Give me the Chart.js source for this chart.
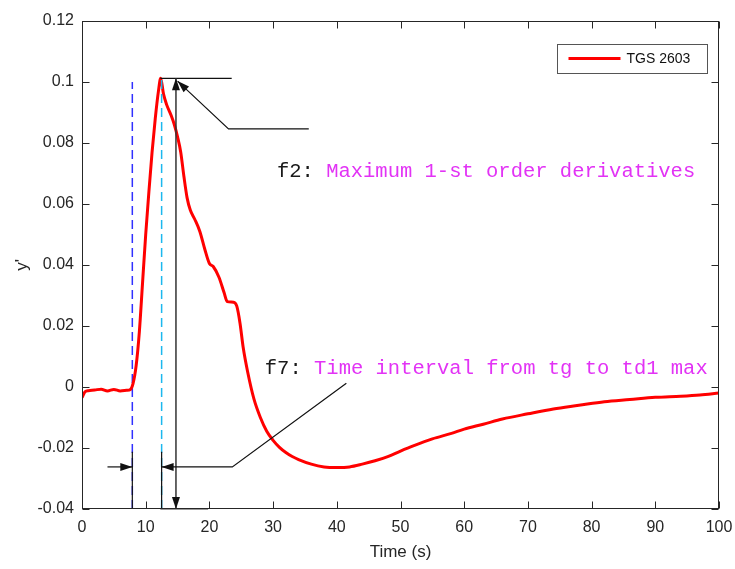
<!DOCTYPE html>
<html>
<head>
<meta charset="utf-8">
<script src="https://cdn.jsdelivr.net/npm/chart.js@4.4.0/dist/chart.umd.min.js"></script>
<style>
  html, body { margin: 0; padding: 0; background: #fff; }
  #wrap { width: 735px; height: 569px; }
</style>
</head>
<body>
<div id="wrap"><canvas id="chart" width="735" height="569"></canvas></div>
<script>
// ---- data ----
const timeS = [0, 0.5, 1, 2, 3, 4, 5, 6, 7, 7.6, 8, 8.5, 9, 9.5, 10, 10.5, 11, 11.5, 12, 12.35,
  12.8, 13.3, 14, 14.5, 15, 15.5, 16, 16.5, 17, 17.7, 18.5, 19.3, 20, 20.6, 21.5, 22.3, 22.8,
  23.8, 24.3, 24.8, 25.3, 26, 27, 28, 29, 30, 31, 32, 33, 34, 36, 38, 40, 42, 44, 46, 48, 50,
  52, 55, 58, 60, 63, 66, 70, 74, 78, 82, 86, 90, 94, 97, 100];
const tgs2603 = [-0.0035, -0.0015, -0.0012, -0.001, -0.0007, -0.0013, -0.0008, -0.0013, -0.0011,
  -0.0008, 0.001, 0.007, 0.018, 0.034, 0.05, 0.064, 0.077, 0.088, 0.097, 0.1012,
  0.096, 0.0925, 0.089, 0.086, 0.082, 0.077, 0.069, 0.062, 0.058, 0.055, 0.051, 0.045, 0.0405,
  0.0395, 0.036, 0.031, 0.028, 0.0278, 0.0265, 0.021, 0.013, 0.005, -0.004, -0.01, -0.0145,
  -0.0175, -0.0198, -0.0215, -0.0228, -0.0238, -0.0253, -0.0262, -0.0264, -0.0262, -0.0253,
  -0.0242, -0.0228, -0.021, -0.0193, -0.017, -0.0152, -0.0138, -0.0122, -0.0105, -0.0088,
  -0.0072, -0.006, -0.0048, -0.0041, -0.0034, -0.003, -0.0026, -0.002];

const xTicks = [0, 10, 20, 30, 40, 50, 60, 70, 80, 90, 100];
const yTicks = [-0.04, -0.02, 0, 0.02, 0.04, 0.06, 0.08, 0.1, 0.12];

// marker lines: gas onset (tg) and time of max derivative (td1 max)
const tgLine = { t: 7.9, from: -0.04, to: 0.1 };
const td1Line = { t: 12.5, from: -0.04, to: 0.1012 };
const peakValue = 0.1012;

// ---- annotation styling (positions in data units) ----
const notes = {
  f2: { t: 30.6, v: 0.0689, label: 'f2: ', text: 'Maximum 1-st order derivatives' },
  f7: { t: 28.7, v: 0.0043, label: 'f7: ', text: 'Time interval from tg to td1 max' }
};

const monoFont = '20.5px "Liberation Mono", "Courier New", monospace';
const axisInk = '#262626';

function fmtTick(v) {
  return String(Number(v.toFixed(2)));
}

function arrowHead(ctx, x0, y0, x1, y1) {
  const ang = Math.atan2(y1 - y0, x1 - x0);
  const len = 12, half = 4;
  ctx.beginPath();
  ctx.moveTo(x1, y1);
  ctx.lineTo(x1 - len * Math.cos(ang) + half * Math.sin(ang), y1 - len * Math.sin(ang) - half * Math.cos(ang));
  ctx.lineTo(x1 - len * Math.cos(ang) - half * Math.sin(ang), y1 - len * Math.sin(ang) + half * Math.cos(ang));
  ctx.closePath();
  ctx.fill();
}

function segment(ctx, pts) {
  ctx.beginPath();
  ctx.moveTo(pts[0][0], pts[0][1]);
  for (let i = 1; i < pts.length; i++) ctx.lineTo(pts[i][0], pts[i][1]);
  ctx.stroke();
}

const framePlugin = {
  id: 'frame',
  afterDatasetsDraw(chart) {
    const { ctx, chartArea: a, scales: { x, y } } = chart;
    const P = (t, v) => [x.getPixelForValue(t), y.getPixelForValue(v)];
    ctx.save();

    // annotations: black lines and arrows
    ctx.strokeStyle = '#111';
    ctx.fillStyle = '#111';
    ctx.lineWidth = 1.2;

    // top reference line at the peak
    segment(ctx, [P(12.3, peakValue), P(23.5, peakValue)]);
    // leader to the peak
    const lA = P(35.6, 0.0846), lB = P(23.0, 0.0846), lTip = P(15.0, 0.1003);
    segment(ctx, [lA, lB, lTip]);
    arrowHead(ctx, lB[0], lB[1], lTip[0], lTip[1]);

    // vertical double arrow
    ctx.strokeStyle = '#333';
    ctx.lineWidth = 1.5;
    const vTop = P(14.75, peakValue), vBot = P(14.75, -0.04);
    segment(ctx, [vTop, vBot]);
    arrowHead(ctx, vBot[0], vBot[1], vTop[0], vTop[1]);
    arrowHead(ctx, vTop[0], vTop[1], vBot[0], vBot[1]);
    ctx.strokeStyle = '#777';
    segment(ctx, [P(12.3, -0.04), P(19.8, -0.04)]);

    // interval marker at the bottom
    ctx.strokeStyle = '#111';
    ctx.lineWidth = 1.2;
    segment(ctx, [P(tgLine.t, -0.0212), P(tgLine.t, -0.04)]);
    segment(ctx, [P(td1Line.t, -0.0212), P(td1Line.t, -0.04)]);
    const arL0 = P(4.0, -0.0262), arL1 = P(tgLine.t, -0.0262);
    segment(ctx, [arL0, arL1]);
    arrowHead(ctx, arL0[0], arL0[1], arL1[0], arL1[1]);
    const arR0 = P(23.6, -0.0262), arR1 = P(td1Line.t, -0.0262);
    segment(ctx, [P(41.5, 0.0012), arR0, arR1]);
    arrowHead(ctx, arR0[0], arR0[1], arR1[0], arR1[1]);

    // texts
    ctx.font = monoFont;
    ctx.textBaseline = 'alphabetic';
    ctx.textAlign = 'left';
    for (const key of ['f2', 'f7']) {
      const n = notes[key];
      const [px, py] = P(n.t, n.v);
      ctx.fillStyle = '#1a1a1a';
      ctx.fillText(n.label, px, py);
      const w = ctx.measureText(n.label).width;
      ctx.fillStyle = '#e233f5';
      ctx.fillText(n.text, px + w, py);
    }

    // axes box with inward ticks
    ctx.strokeStyle = axisInk;
    ctx.lineWidth = 1;
    const L = Math.round(a.left) + 0.5, R = Math.round(a.right) - 0.5;
    const T = Math.round(a.top) + 0.5, B = Math.round(a.bottom) - 0.5;
    ctx.strokeRect(L, T, R - L, B - T);
    ctx.beginPath();
    for (const t of xTicks) {
      const px = Math.round(x.getPixelForValue(t)) + 0.5;
      ctx.moveTo(px, B); ctx.lineTo(px, B - 7);
      ctx.moveTo(px, T); ctx.lineTo(px, T + 7);
    }
    for (const v of yTicks) {
      const py = Math.round(y.getPixelForValue(v)) + 0.5;
      ctx.moveTo(L, py); ctx.lineTo(L + 7, py);
      ctx.moveTo(R, py); ctx.lineTo(R - 7, py);
    }
    ctx.stroke();

    // legend box, top right
    const bw = 150, bh = 29;
    const bx = Math.round(a.right) - 12 - bw + 0.5, by = Math.round(a.top) + 23 + 0.5;
    ctx.fillStyle = '#fff';
    ctx.fillRect(bx, by, bw, bh);
    ctx.strokeStyle = '#555';
    ctx.strokeRect(bx, by, bw, bh);
    ctx.strokeStyle = '#ff0000';
    ctx.lineWidth = 3;
    ctx.beginPath();
    ctx.moveTo(bx + 11, by + 14); ctx.lineTo(bx + 63, by + 14);
    ctx.stroke();
    ctx.fillStyle = '#111';
    ctx.font = '14px "Liberation Sans", Arial, sans-serif';
    ctx.textBaseline = 'middle';
    ctx.fillText(chart.data.datasets[0].label, bx + 69, by + 14.5);

    ctx.restore();
  }
};

const tickFont = { family: '"Liberation Sans", Arial, sans-serif', size: 16 };

new Chart(document.getElementById('chart'), {
  type: 'line',
  data: {
    datasets: [
      {
        label: 'TGS 2603',
        data: timeS.map((t, i) => ({ x: t, y: tgs2603[i] })),
        borderColor: '#ff0000',
        borderWidth: 3,
        pointRadius: 0,
        cubicInterpolationMode: 'monotone',
        order: 1
      },
      {
        label: 'tg',
        data: [{ x: tgLine.t, y: tgLine.from }, { x: tgLine.t, y: tgLine.to }],
        borderColor: '#3030ff',
        borderWidth: 1.5,
        borderDash: [9, 5],
        pointRadius: 0,
        order: 2
      },
      {
        label: 'td1 max',
        data: [{ x: td1Line.t, y: td1Line.from }, { x: td1Line.t, y: td1Line.to }],
        borderColor: '#1cb8ee',
        borderWidth: 1.5,
        borderDash: [9, 5],
        pointRadius: 0,
        order: 0
      }
    ]
  },
  options: {
    responsive: false,
    animation: false,
    layout: { padding: { left: 0, right: 16, top: 21, bottom: 0 } },
    plugins: {
      legend: { display: false },
      tooltip: { enabled: false }
    },
    scales: {
      x: {
        type: 'linear',
        min: 0,
        max: 100,
        grid: { display: false, drawTicks: false },
        border: { display: false },
        afterBuildTicks: s => { s.ticks = xTicks.map(v => ({ value: v })); },
        afterFit: s => { s.height = 60; s.paddingLeft = 0; s.paddingRight = 0; },
        ticks: { font: tickFont, color: axisInk, padding: 9, maxRotation: 0 },
        title: { display: true, text: 'Time (s)', font: { family: tickFont.family, size: 17 }, color: axisInk, padding: { top: 0, bottom: 6 } }
      },
      y: {
        type: 'linear',
        min: -0.04,
        max: 0.12,
        grid: { display: false, drawTicks: false },
        border: { display: false },
        afterBuildTicks: s => { s.ticks = yTicks.map(v => ({ value: v })); },
        afterFit: s => { s.width = 82; s.paddingTop = 0; s.paddingBottom = 0; },
        ticks: { font: tickFont, color: axisInk, padding: 8, callback: v => fmtTick(v) },
        title: { display: true, text: "y'", font: { family: tickFont.family, size: 17 }, color: axisInk, padding: { top: 12, bottom: 0 } }
      }
    }
  },
  plugins: [framePlugin]
});
</script>
</body>
</html>
